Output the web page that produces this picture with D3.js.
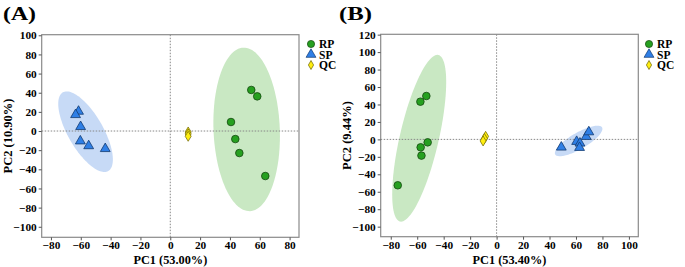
<!DOCTYPE html>
<html>
<head>
<meta charset="utf-8">
<script src="https://cdn.jsdelivr.net/npm/d3@7"></script>
<style>
  body { margin: 0; background: #fff; }
  svg text { font-family: "Liberation Serif", "Times New Roman", serif; font-weight: bold; }
</style>
</head>
<body>
<svg id="chart" width="685" height="267"></svg>
<script>
// ---- panel A data ----
const aRP = [[54.3, 42.9], [58.3, 36.2], [40.7, 9.4], [43.6, -8.4], [46.3, -23], [63.7, -47]];
const aSP = [[-61.5, 20.5], [-63.5, 17], [-60.1, 4.5], [-60.3, -10.5], [-54.7, -15.5], [-43.6, -18.5]];
const aQC = [[12, -1], [12, -3], [12, -5.5]];
// ellipse: centre, semi-axis vector U, semi-axis vector V (data units)
const aEllRP = [51.2, 1.7, -2.2, 85.4, 22.2, 1.4];
const aEllSP = [-56.8, -0.7, 15.2, -41.1, -10.2, -9.1];
const aXTicks = [-80, -60, -40, -20, 0, 20, 40, 60, 80];
const aYTicks = [-100, -80, -60, -40, -20, 0, 20, 40, 60, 80, 100];

// ---- panel B data ----
const bRP = [[-53.1, 49.7], [-57.6, 43.2], [-52.1, -3.4], [-57.4, -9.1], [-56.8, -18.6], [-74.7, -52.6]];
const bSP = [[48.9, -9], [60.5, -2.5], [63, -4.4], [62.7, -9.4], [67.7, 3.2], [69.7, 8.5]];
const bQC = [[-8.3, 3.5], [-9.2, 1], [-10.2, -1.8]];
const bEllRP = [-58.5, 1.3, 14.5, 95.4, 14.35, -5.0];
const bEllSP = [62, -1.8, 17.7, 15.5, 3.1, -8.1];
const bXTicks = [-80, -60, -40, -20, 0, 20, 40, 60, 80, 100];
const bYTicks = [-100, -80, -60, -40, -20, 0, 20, 40, 60, 80, 100, 120];

const groups = ['RP', 'SP', 'QC'];

const svg = d3.select('#chart');

function drawPanel(cfg) {
    const g = svg.append('g');
    const x = d3.scaleLinear().domain(cfg.xDomain).range([cfg.left, cfg.right]);
    const y = d3.scaleLinear().domain(cfg.yDomain).range([cfg.bottom, cfg.top]);

    // ellipses
    const ellLine = d3.line().x(d => x(d[0])).y(d => y(d[1])).curve(d3.curveLinearClosed);
    const ellPts = e => d3.range(0, 2 * Math.PI, Math.PI / 60)
        .map(t => [e[0] + Math.cos(t) * e[2] + Math.sin(t) * e[4],
                   e[1] + Math.cos(t) * e[3] + Math.sin(t) * e[5]]);
    g.append('path').attr('d', ellLine(ellPts(cfg.ellRP)))
        .attr('fill', '#c9e8c3');
    g.append('path').attr('d', ellLine(ellPts(cfg.ellSP)))
        .attr('fill', '#c7daf6');

    // zero lines
    g.append('line')
        .attr('x1', x(0)).attr('x2', x(0)).attr('y1', cfg.top).attr('y2', cfg.bottom)
        .attr('stroke', '#888').attr('stroke-dasharray', '1.5,1.5');
    g.append('line')
        .attr('x1', cfg.left).attr('x2', cfg.right).attr('y1', y(0)).attr('y2', y(0))
        .attr('stroke', '#888').attr('stroke-dasharray', '1.5,1.5');

    // frame
    g.append('rect')
        .attr('x', cfg.left).attr('y', cfg.top)
        .attr('width', cfg.right - cfg.left).attr('height', cfg.bottom - cfg.top)
        .attr('fill', 'none').attr('stroke', '#8a8a8a').attr('stroke-width', 1.2);

    // axes
    const xa = g.append('g').attr('transform', `translate(0,${cfg.bottom})`)
        .call(d3.axisBottom(x).tickValues(cfg.xTicks).tickSize(3).tickPadding(1));
    const ya = g.append('g').attr('transform', `translate(${cfg.left},0)`)
        .call(d3.axisLeft(y).tickValues(cfg.yTicks).tickSize(3).tickPadding(2));
    [xa, ya].forEach(a => {
        a.select('.domain').remove();
        a.selectAll('.tick line').attr('stroke', '#555');
        a.selectAll('.tick text').attr('fill', '#000')
            .style('font-size', '11.3px').style('font-family', '"Liberation Serif", serif')
            .style('font-weight', 'bold');
    });

    // points
    g.selectAll('.rp').data(cfg.rp).join('circle')
        .attr('cx', d => x(d[0])).attr('cy', d => y(d[1])).attr('r', 3.8)
        .attr('fill', '#26a020').attr('stroke', '#14480f').attr('stroke-width', 0.8);
    const tri = d3.symbol().type(d3.symbolTriangle).size(42);
    g.selectAll('.sp').data(cfg.sp).join('path')
        .attr('d', tri)
        .attr('transform', d => `translate(${x(d[0])},${y(d[1])})`)
        .attr('fill', '#2f7fe6').attr('stroke', '#123a70').attr('stroke-width', 0.8);
    const dia = 'M0,-5L3,0L0,5L-3,0Z';
    g.selectAll('.qc').data(cfg.qc).join('path')
        .attr('d', dia)
        .attr('transform', d => `translate(${x(d[0])},${y(d[1])})`)
        .attr('fill', '#ffee10').attr('stroke', '#6a6200').attr('stroke-width', 0.7);

    // titles
    g.append('text').attr('x', (cfg.left + cfg.right) / 2).attr('y', 264)
        .attr('text-anchor', 'middle').style('font-size', '12.3px').attr('fill', '#000')
        .text(cfg.xTitle);
    g.append('text')
        .attr('transform', `translate(${cfg.yTitleX},${(cfg.top + cfg.bottom) / 2}) rotate(-90)`)
        .attr('text-anchor', 'middle').style('font-size', '12.5px').attr('fill', '#000')
        .text(cfg.yTitle);
    g.append('text').attr('x', cfg.tagX).attr('y', 20)
        .style('font-size', '19px').attr('fill', '#000')
        .attr('textLength', 33).attr('lengthAdjust', 'spacingAndGlyphs')
        .text(cfg.tag);

    // legend
    const lg = g.append('g').attr('transform', `translate(${cfg.legendX},44)`);
    groups.forEach((name, i) => {
        const yy = i * 10.5;
        if (name === 'RP') {
            lg.append('circle').attr('cx', 0).attr('cy', yy).attr('r', 3.6)
                .attr('fill', '#26a020').attr('stroke', '#14480f').attr('stroke-width', 0.7);
        } else if (name === 'SP') {
            lg.append('path').attr('d', tri).attr('transform', `translate(0,${yy})`)
                .attr('fill', '#2f7fe6').attr('stroke', '#123a70').attr('stroke-width', 0.7);
        } else {
            lg.append('path').attr('d', 'M0,-4.5L2.6,0L0,4.5L-2.6,0Z').attr('transform', `translate(0,${yy})`)
                .attr('fill', '#ffee10').attr('stroke', '#6a6200').attr('stroke-width', 0.7);
        }
        lg.append('text').attr('x', 8).attr('y', yy + 4)
            .style('font-size', '11.5px').attr('fill', '#000').text(name);
    });
}

drawPanel({
    left: 41.7, right: 299, top: 34.7, bottom: 237.3,
    xDomain: [-86.2, 86.3], yDomain: [-111, 100.6],
    xTicks: aXTicks, yTicks: aYTicks,
    rp: aRP, sp: aSP, qc: aQC, ellRP: aEllRP, ellSP: aEllSP,
    xTitle: 'PC1 (53.00%)', yTitle: 'PC2 (10.90%)', yTitleX: 12,
    tag: '(A)', tagX: 3, legendX: 311
});

drawPanel({
    left: 380.7, right: 638.3, top: 34.3, bottom: 236.7,
    xDomain: [-87.6, 107.1], yDomain: [-111.5, 120.4],
    xTicks: bXTicks, yTicks: bYTicks,
    rp: bRP, sp: bSP, qc: bQC, ellRP: bEllRP, ellSP: bEllSP,
    xTitle: 'PC1 (53.40%)', yTitle: 'PC2 (9.44%)', yTitleX: 351,
    tag: '(B)', tagX: 339, legendX: 649
});
</script>
</body>
</html>
